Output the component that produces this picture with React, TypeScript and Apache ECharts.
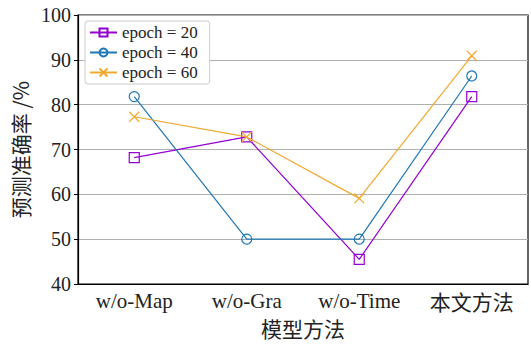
import React, { useEffect, useRef } from "react";
import * as echarts from "echarts";

const categories = ["w/o-Map", "w/o-Gra", "w/o-Time", "本文方法"];
const seriesNames = ["epoch = 20", "epoch = 40", "epoch = 60"];
const epoch20 = [68.2, 72.8, 45.5, 81.8];
const epoch40 = [81.8, 50.0, 50.0, 86.4];
const epoch60 = [77.3, 72.8, 59.1, 90.9];
const yTicks = { min: 40, max: 100, interval: 10 };

const colors = ["#9400d3", "#1f77b4", "#f0a830"];
const symbols = ["rect", "circle", "path://M0,0 L10,10 M10,0 L0,10"];
const symbolSizes = [10, 10, 10];

const serif = "Liberation Serif";
const cjk = "Noto Sans CJK SC";

export default function App() {
  const ref = useRef<HTMLDivElement>(null);
  useEffect(() => {
    if (!ref.current) return;
    const chart = echarts.init(ref.current, null, { renderer: "svg" });
    const data = [epoch20, epoch40, epoch60];
    chart.setOption({
      animation: false,
      grid: {
        left: 78,
        right: 3,
        top: 15,
        bottom: 61,
        show: true,
        borderColor: "#000",
        borderWidth: 1.2,
        backgroundColor: "transparent",
      },
      legend: {
        left: 85,
        top: 21,
        orient: "vertical",
        data: seriesNames,
        itemWidth: 27,
        itemHeight: 10,
        itemGap: 3,
        padding: [3, 12, 3, 4],
        backgroundColor: "#fff",
        borderColor: "#cccccc",
        borderWidth: 1,
        borderRadius: 3,
        textStyle: { fontFamily: serif, fontSize: 17, color: "#222" },
      },
      xAxis: {
        type: "category",
        data: categories,
        boundaryGap: true,
        name: "模型方法",
        nameLocation: "middle",
        nameGap: 33,
        nameTextStyle: { fontFamily: cjk, fontSize: 21, color: "#222" },
        axisLine: { lineStyle: { color: "#000", width: 1.2 } },
        axisTick: { inside: true, length: 4, alignWithLabel: true, lineStyle: { color: "#000" } },
        axisLabel: {
          color: "#222",
          margin: 6,
          formatter: (v: string) => (/^[\x00-\x7f]+$/.test(v) ? `{s|${v}}` : `{c|${v}}`),
          rich: {
            s: { fontFamily: serif, fontSize: 21, color: "#222" },
            c: { fontFamily: cjk, fontSize: 21, color: "#222" },
          },
        },
        splitLine: { show: false },
      },
      yAxis: {
        type: "value",
        min: yTicks.min,
        max: yTicks.max,
        interval: yTicks.interval,
        name: "预测准确率 /%",
        nameLocation: "middle",
        nameGap: 46,
        nameTextStyle: { fontFamily: cjk, fontSize: 21, color: "#222" },
        axisLine: { show: true, lineStyle: { color: "#000", width: 1.2 } },
        axisTick: { show: true, inside: false, length: 4, lineStyle: { color: "#000" } },
        axisLabel: { fontFamily: serif, fontSize: 20, color: "#222", margin: 7 },
        splitLine: { show: true, lineStyle: { color: "#b0b0b0", width: 1 } },
      },
      series: seriesNames.map((name, i) => ({
        name,
        type: "line",
        data: data[i],
        symbol: symbols[i],
        symbolSize: symbolSizes[i],
        showAllSymbol: true,
        lineStyle: { color: colors[i], width: 1.2 },
        itemStyle: { color: "transparent", borderColor: colors[i], borderWidth: 1.2 },
        emphasis: { disabled: true },
        z: 2 + i,
      })),
    });
    return () => chart.dispose();
  }, []);
  return <div ref={ref} style={{ width: 531, height: 345, position: "absolute", left: 0, top: 0, background: "#fff" }} />;
}
